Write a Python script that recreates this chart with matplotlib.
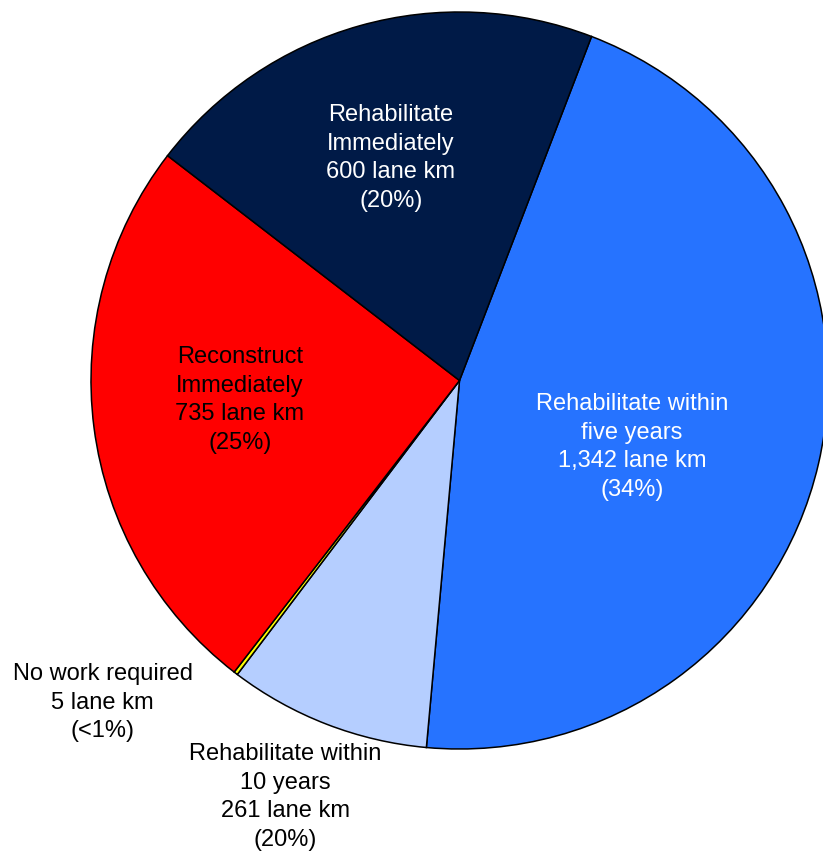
"""
Pie chart of pavement treatment needs (lane km).
"""

import matplotlib
matplotlib.use("Agg")
import matplotlib.pyplot as plt

# Data — drawn clockwise from the navy/blue boundary
categories = [
    "Rehabilitate within five years",
    "Rehabilitate within 10 years",
    "No work required",
    "Reconstruct Immediately",
    "Rehabilitate Immediately",
]
lane_km = [1342, 261, 5, 735, 600]
label_texts = [
    "Rehabilitate within\nfive years\n1,342 lane km\n(34%)",
    "Rehabilitate within\n10 years\n261 lane km\n(20%)",
    "No work required\n5 lane km\n(<1%)",
    "Reconstruct\nImmediately\n735 lane km\n(25%)",
    "Rehabilitate\nImmediately\n600 lane km\n(20%)",
]

COLORS = ["#2673FF", "#B5CEFF", "#FFFF00", "#FF0000", "#001A47"]
TEXT_COLORS = ["white", "black", "black", "black", "white"]

# label anchor positions, in pie radii relative to the centre
LABEL_POS = [
    (0.468, -0.180),
    (-0.473, -1.130),
    (-0.968, -0.875),
    (-0.596, -0.053),
    (-0.186, 0.604),
]

W, H = 823, 856
CX, CY, R = 459.5, 380.5, 368.5   # pie centre and radius in pixels

fig = plt.figure(figsize=(W / 100, H / 100), dpi=100)
ax = fig.add_axes([0, 0, 1, 1])

ax.pie(
    lane_km,
    colors=COLORS,
    startangle=69,
    counterclock=False,
    radius=1.0,
    wedgeprops=dict(edgecolor="black", linewidth=1.1),
)

for text, (x, y), c in zip(label_texts, LABEL_POS, TEXT_COLORS):
    ax.text(x, y, text, ha="center", va="center", color=c,
            fontsize=17, family="Liberation Sans", linespacing=1.38)

ax.set_xlim(-CX / R, (W - CX) / R)
ax.set_ylim(-(H - CY) / R, CY / R)
ax.set_aspect("auto")
ax.axis("off")

plt.savefig("out.png", dpi=100, facecolor="white")
